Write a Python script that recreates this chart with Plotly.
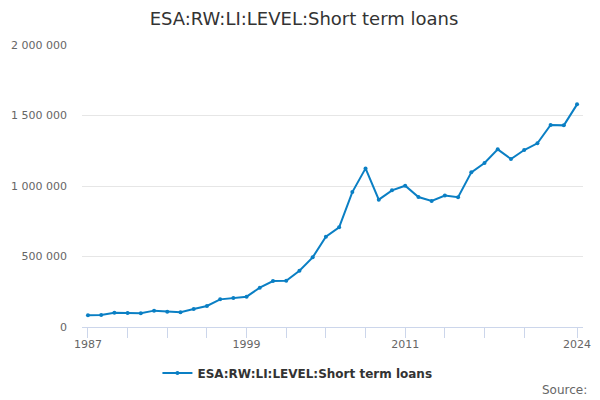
import plotly.graph_objects as go

# values
years = list(range(1987, 2025))
loans = [83000, 85000, 101000, 99000, 97000, 116000, 109000, 104000, 128000, 149000,
         196000, 206000, 215000, 279000, 326000, 328000, 399000, 494000, 640000, 707000,
         957000, 1125000, 903000, 969000, 1002000, 922000, 894000, 932000, 920000, 1097000,
         1163000, 1260000, 1191000, 1255000, 1303000, 1433000, 1430000, 1579000]

tick_years = list(range(1987, 2021, 3)) + [2024]
tick_labels = [str(y) if y in (1987, 1999, 2011, 2024) else '' for y in tick_years]

series_name = 'ESA:RW:LI:LEVEL:Short term loans'
line_color = '#0a7fc4'

fig = go.Figure()
fig.add_trace(go.Scatter(
    x=years, y=loans, mode='lines+markers', name=series_name,
    line=dict(color=line_color, width=2),
    marker=dict(color=line_color, size=4),
))

# page is shown with an 8px body margin, so the figure is a bit smaller
fig.update_layout(
    width=592, height=392,
    margin=dict(l=74, r=17, t=37, b=73, autoexpand=False),
    paper_bgcolor='white', plot_bgcolor='white',
    font=dict(family='DejaVu Sans, sans-serif', color='#666666'),
    separators='. ',
    title=dict(text=series_name, x=0.5, xanchor='center', y=0.974, yanchor='middle',
               font=dict(size=18, color='#333333')),
    showlegend=True,
    legend=dict(orientation='h', x=0.43, xanchor='center', y=-0.163, yanchor='middle',
                font=dict(size=12, color='#333333', weight='bold')),
    annotations=[dict(text='Source:', xref='paper', yref='paper', x=1.012, y=-0.225,
                      xanchor='right', yanchor='middle', showarrow=False,
                      font=dict(size=12, color='#666666'))],
)

fig.update_xaxes(
    range=[1986.55, 2024.45], automargin=False,
    tickmode='array', tickvals=tick_years, ticktext=tick_labels,
    ticks='outside', ticklen=10, tickcolor='#ccd6eb', tickwidth=1,
    showline=True, linecolor='#ccd6eb', linewidth=1,
    showgrid=False, zeroline=False, ticklabelstandoff=-3,
    tickfont=dict(size=11, color='#666666'),
)
fig.update_yaxes(
    range=[0, 2000000], automargin=False,
    tickvals=[0, 500000, 1000000, 1500000, 2000000],
    tickformat=',d',
    showgrid=True, gridcolor='#e6e6e6', gridwidth=1,
    zeroline=False, showline=False,
    ticks='', ticklabelstandoff=14,
    tickfont=dict(size=11, color='#666666'),
)

fig.write_html('out.html')
